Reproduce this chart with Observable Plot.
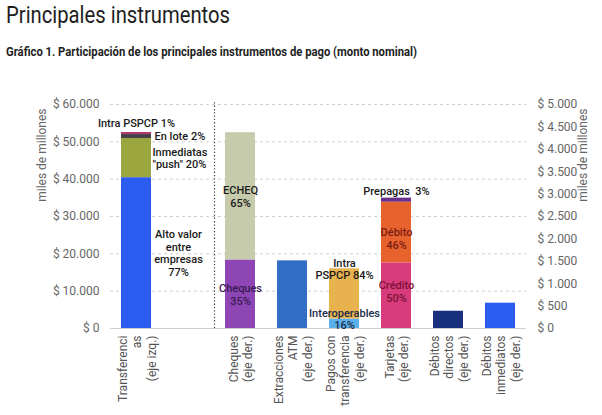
<!DOCTYPE html>
<html>
<head>
<meta charset="utf-8">
<script src="https://cdn.jsdelivr.net/npm/d3@7"></script>
<script src="https://cdn.jsdelivr.net/npm/@observablehq/plot@0.6"></script>
<style>
  html, body { margin: 0; padding: 0; background: #fff; }
  body { width: 602px; height: 415px; position: relative; overflow: hidden; font-family: Roboto, "Noto Sans", sans-serif; }
  #title { position: absolute; left: 6px; top: 1px; font-size: 24px; font-weight: 400; color: #1e1e1e; white-space: nowrap; transform-origin: left center; }
  #subtitle { position: absolute; left: 6px; top: 43.5px; font-size: 12.5px; font-weight: 700; color: #1e1e1e; white-space: nowrap; transform-origin: left center; }
  #chart { position: absolute; left: 0; top: 70px; }
</style>
</head>
<body>
<div id="title">Principales instrumentos</div>
<div id="subtitle">Gráfico 1. Participación de los principales instrumentos de pago (monto nominal)</div>
<div id="chart"></div>
<script>
// ---- data ----
const categories = ["Transferencias", "(vacío)", "Cheques", "Extracciones ATM", "Pagos con transferencia", "Tarjetas", "Débitos directos", "Débitos inmediatos"];
const categoryLabels = ["Transferenci\nas\n(eje izq.)", "", "Cheques\n(eje der.)", "Extracciones\nATM\n(eje der.)", "Pagos con\ntransferencia\n(eje der.)", "Tarjetas\n(eje der.)", "Débitos\ndirectos\n(eje der.)", "Débitos\ninmediatos\n(eje der.)"];
const categoryAxis = ["izq", "izq", "der", "der", "der", "der", "der", "der"];

const segCategory = ["Transferencias", "Transferencias", "Transferencias", "Transferencias", "Cheques", "Cheques", "Extracciones ATM", "Pagos con transferencia", "Pagos con transferencia", "Tarjetas", "Tarjetas", "Tarjetas", "Débitos directos", "Débitos inmediatos"];
const segKey = ["altoValor", "inmediatas", "enLote", "intraT", "cheques", "echeq", "atm", "interop", "intraP", "credito", "debito", "prepagas", "debDirectos", "debInmediatos"];
const segValue = [40400, 10500, 1050, 550, 1530, 2840, 1510, 213, 1120, 1465, 1355, 90, 385, 565];
const segLabel = ["Alto valor\nentre\nempresas\n77%", "Inmediatas\n\"push\" 20%", "En lote 2%", "Intra PSPCP 1%", "Cheques\n35%", "ECHEQ\n65%", "", "Interoperables\n16%", "Intra\nPSPCP 84%", "Crédito\n50%", "Débito\n46%", "Prepagas  3%", "", ""];
const segColor = ["#2b5cf0", "#9ca63e", "#45404c", "#b0386e", "#8d46b4", "#c6cbab", "#2f6ec4", "#5cb0ea", "#e8b24e", "#d83c7c", "#e8622e", "#6a2e8c", "#172f7c", "#2b5cf0"];
const segTextColor = ["#1a1a1a", "#1a1a1a", "#1a1a1a", "#1a1a1a", "#3a1b52", "#1a1a1a", "#1a1a1a", "#1c2c48", "#1a1a1a", "#7c1238", "#7a1c12", "#1a1a1a", "#1a1a1a", "#1a1a1a"];

const leftTicks = [0, 10000, 20000, 30000, 40000, 50000, 60000];
const rightTicks = [0, 500, 1000, 1500, 2000, 2500, 3000, 3500, 4000, 4500, 5000];
const axisTitle = "miles de millones";

// ---- derived table ----
const ratio = leftTicks[leftTicks.length - 1] / rightTicks[rightTicks.length - 1];
const axisOf = new Map(categories.map((c, i) => [c, categoryAxis[i]]));
const catLabel = new Map(categories.map((c, i) => [c, categoryLabels[i]]));
const running = new Map();
const table = segValue.map((v, i) => {
  const cat = segCategory[i];
  const scaled = axisOf.get(cat) === "der" ? v * ratio : v;
  const y1 = running.get(cat) || 0;
  const y2 = y1 + scaled;
  running.set(cat, y2);
  return {cat, key: segKey[i], y1, y2, label: segLabel[i], color: segColor[i], textColor: segTextColor[i]};
});

const loc = d3.formatLocale({decimal: ",", thousands: ".", grouping: [3], currency: ["$", ""]});
const fmt = loc.format(",d");

const pick = keys => table.filter(d => keys.includes(d.key));
const segMid = d => (d.y1 + d.y2) / 2;
const segTop = d => d.y2;
const labelStyle = {x: "cat", text: "label", fill: "textColor", fontSize: 11, fontWeight: 500, lineHeight: 1.15, lineAnchor: "middle"};

const plot = Plot.plot({
  width: 602,
  height: 345,
  marginLeft: 110,
  marginRight: 76,
  marginTop: 34,
  marginBottom: 87,
  style: {fontFamily: "Roboto, 'Noto Sans', sans-serif", fontSize: "12px", background: "#fff"},
  x: {domain: categories, paddingInner: 0.42, paddingOuter: 0.21, axis: null},
  y: {domain: [0, leftTicks[leftTicks.length - 1]], axis: null},
  marks: [
    Plot.gridY(leftTicks.filter(t => t > 0), {stroke: "#cfcfcf", strokeOpacity: 1, strokeDasharray: "3,3"}),
    Plot.ruleY([0], {stroke: "#d0d0d0"}),
    Plot.ruleX(["Cheques"], {y1: 0, y2: leftTicks[leftTicks.length - 1] * 1.015, dx: -26, stroke: "#444", strokeWidth: 1.2, strokeDasharray: "1.3,2"}),
    Plot.barY(table, {x: "cat", y1: "y1", y2: "y2", fill: "color"}),
    // segment labels
    Plot.text(pick(["altoValor"]), {...labelStyle, y: segMid, dx: 42, textAnchor: "middle"}),
    Plot.text(pick(["inmediatas"]), {...labelStyle, y: segMid, dx: 16, dy: 0, textAnchor: "start"}),
    Plot.text(pick(["enLote"]), {...labelStyle, y: segMid, dx: 18, dy: -1, textAnchor: "start"}),
    Plot.text(pick(["intraT"]), {...labelStyle, y: segTop, dy: -10, textAnchor: "middle"}),
    Plot.text(pick(["cheques", "echeq"]), {...labelStyle, y: segMid, dy: 0, textAnchor: "middle"}),
    Plot.text(pick(["interop", "intraP"]), {...labelStyle, y: segTop, dy: 0, textAnchor: "middle"}),
    Plot.text(pick(["credito"]), {...labelStyle, y: segMid, dy: -4, textAnchor: "middle"}),
    Plot.text(pick(["debito"]), {...labelStyle, y: segMid, dy: 6, textAnchor: "middle"}),
    Plot.text(pick(["prepagas"]), {...labelStyle, y: segTop, dy: -7, textAnchor: "middle"}),
    // axes
    Plot.axisY(leftTicks, {anchor: "left", tickSize: 0, tickPadding: 11, tickFormat: d => "$ " + fmt(d), fill: "#666", fontSize: 12, label: null}),
    Plot.axisY(rightTicks.map(t => t * ratio), {anchor: "right", tickSize: 0, tickPadding: 11, tickFormat: d => "$ " + fmt(Math.round(d / ratio)), fill: "#666", fontSize: 12, label: null}),
    Plot.text([axisTitle], {frameAnchor: "top-left", text: d => d, rotate: -90, textAnchor: "end", lineAnchor: "middle", dx: -68, dy: 4, fill: "#666", fontSize: 12}),
    Plot.text([axisTitle], {frameAnchor: "top-right", text: d => d, rotate: -90, textAnchor: "end", lineAnchor: "middle", dx: 57, dy: 4, fill: "#666", fontSize: 12}),
    Plot.text(categories, {x: d => d, frameAnchor: "bottom", text: d => catLabel.get(d), rotate: -90, textAnchor: "end", lineAnchor: "middle", dy: 7, lineHeight: 1.2, fill: "#555", fontSize: 12})
  ]
});
document.getElementById("chart").appendChild(plot);

// fit title and subtitle widths to the reference's narrower type
const fit = (id, target) => {
  const el = document.getElementById(id);
  const w = el.getBoundingClientRect().width;
  el.style.transform = `scaleX(${target / w})`;
};
fit("title", 224);
fit("subtitle", 411);
</script>
</body>
</html>
